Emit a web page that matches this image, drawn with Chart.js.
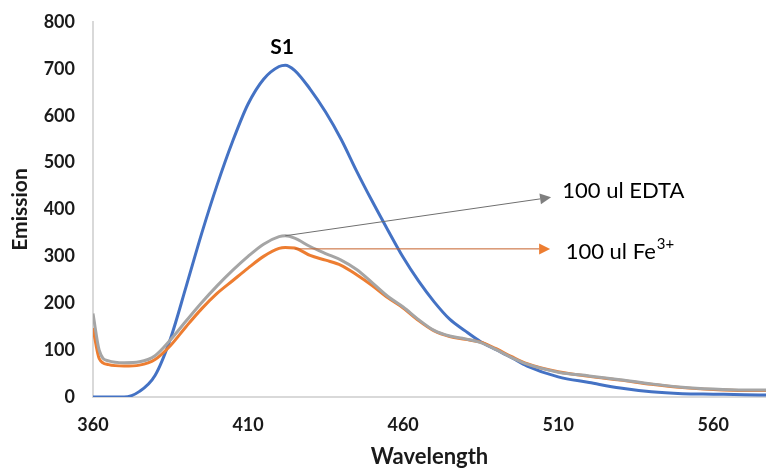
<!DOCTYPE html>
<html>
<head>
<meta charset="utf-8">
<script src="https://cdn.jsdelivr.net/npm/chart.js@4.4.1/dist/chart.umd.min.js"></script>
<style>
html, body { margin: 0; padding: 0; background: #fff; }
</style>
</head>
<body>
<canvas id="chartContainer1" width="766" height="468"></canvas>
<script>
"use strict";

// 1: data
const wavelengths = [360, 362, 365, 370, 375, 380, 385, 390, 395, 400, 405, 410, 415, 420, 422, 425, 430, 435, 440, 445, 450, 455, 460, 465, 470, 475, 480, 485, 490, 495, 500, 510, 520, 530, 540, 550, 560, 570, 577];
const s1 =   [0, 0, 0, 0, 12, 46, 125, 235, 348, 452, 545, 625, 678, 705, 708, 697, 657, 608, 550, 482, 418, 357, 298, 247, 203, 166, 141, 118, 101, 84, 66, 43, 31, 19, 11, 7, 6, 5, 4];
const fe3 =  [147, 82, 69, 66, 68, 80, 110, 150, 188, 221, 248, 275, 300, 317, 319, 318, 302, 292, 281, 261, 238, 212, 190, 163, 141, 129, 123, 117, 103, 86, 71, 54, 44, 36, 27, 20, 16, 14, 14];
const edta = [178, 100, 77, 73, 75, 88, 122, 162, 201, 237, 270, 300, 326, 342, 344, 339, 321, 306, 292, 272, 244, 215, 192, 165, 142, 130, 124, 116, 101, 84, 70, 53, 45, 37, 28, 21, 17, 15, 15];

const xTicks = [360, 410, 460, 510, 560];
const yTicks = [0, 100, 200, 300, 400, 500, 600, 700, 800];

// annotation anchors in data units: [wavelength, emission]
const s1Label = [421, 747];
const edtaArrow = [[422, 344], [507.7, 426]];
const fe3Arrow = [[425, 316], [507.4, 316]];
const edtaText = [511.3, 439];
const fe3Text = [512.4, 310];

function toPoints(ys) {
	return wavelengths.map((w, i) => ({ x: w, y: ys[i] }));
}

// 2: annotations (text and arrows) drawn through the scales
const notesPlugin = {
	id: 'notes',
	afterDatasetsDraw(chart) {
		const ctx = chart.ctx;
		const xs = chart.scales.x;
		const ys = chart.scales.y;
		const px = p => [xs.getPixelForValue(p[0]), ys.getPixelForValue(p[1])];

		function arrow(from, to, lineColor, headColor) {
			const a = px(from);
			const b = px(to);
			const ang = Math.atan2(b[1] - a[1], b[0] - a[0]);
			const len = 11;
			const wid = 5.5;
			ctx.save();
			ctx.strokeStyle = lineColor;
			ctx.fillStyle = headColor;
			ctx.lineWidth = 1;
			ctx.beginPath();
			ctx.moveTo(a[0], a[1]);
			ctx.lineTo(b[0] - Math.cos(ang) * len, b[1] - Math.sin(ang) * len);
			ctx.stroke();
			ctx.beginPath();
			ctx.moveTo(b[0], b[1]);
			ctx.lineTo(b[0] - Math.cos(ang) * len - Math.sin(ang) * wid, b[1] - Math.sin(ang) * len + Math.cos(ang) * wid);
			ctx.lineTo(b[0] - Math.cos(ang) * len + Math.sin(ang) * wid, b[1] - Math.sin(ang) * len - Math.cos(ang) * wid);
			ctx.closePath();
			ctx.fill();
			ctx.restore();
		}

		arrow(edtaArrow[0], edtaArrow[1], '#6f6f6f', '#7f7f7f');
		arrow(fe3Arrow[0], fe3Arrow[1], '#c5602a', '#ed7d31');

		ctx.save();
		ctx.fillStyle = '#000';
		ctx.textBaseline = 'middle';

		let p = px(s1Label);
		ctx.font = 'bold 21px Lato';
		ctx.textAlign = 'center';
		ctx.fillText('S1', p[0], p[1]);

		ctx.textAlign = 'left';
		ctx.font = '22px Lato';
		p = px(edtaText);
		ctx.fillText('100 ul EDTA', p[0], p[1]);

		p = px(fe3Text);
		ctx.fillText('100 ul Fe', p[0], p[1]);
		const w = ctx.measureText('100 ul Fe').width;
		ctx.font = '15px Lato';
		ctx.fillText('3+', p[0] + w + 1, p[1] - 8);
		ctx.restore();
	}
};

// 3: create the chart
let chart = new Chart(document.querySelector('#chartContainer1'), {
	type: 'line',
	data: {
		datasets: [{
			label: 'S1',
			data: toPoints(s1),
			borderColor: '#4472c4',
			order: 3
		}, {
			label: '100 ul Fe3+',
			data: toPoints(fe3),
			borderColor: '#ed7d31',
			order: 2
		}, {
			label: '100 ul EDTA',
			data: toPoints(edta),
			borderColor: '#a5a5a5',
			order: 1
		}]
	},
	options: {
		responsive: false,
		animation: false,
		layout: { padding: { top: 22, right: 0, left: 0, bottom: 0 } },
		elements: {
			line: { borderWidth: 3, cubicInterpolationMode: 'monotone', fill: false },
			point: { radius: 0 }
		},
		plugins: {
			legend: { display: false },
			tooltip: { enabled: false }
		},
		scales: {
			x: {
				type: 'linear',
				min: 360,
				max: 577,
				afterBuildTicks: s => { s.ticks = xTicks.map(v => ({ value: v })); },
				afterFit: s => { s.height = 71; s.paddingLeft = 0; s.paddingRight = 0; },
				grid: { display: false, drawTicks: false },
				border: { display: true, color: '#d9d9d9', width: 2 },
				ticks: { padding: 17, color: '#1a1a1a', font: { family: 'Lato', size: 18, weight: 'bold' } },
				title: {
					display: true,
					text: 'Wavelength',
					color: '#1a1a1a',
					padding: { top: 0, bottom: 0 },
					font: { family: 'Lato', size: 22, weight: 'bold', lineHeight: 1 }
				}
			},
			y: {
				min: 0,
				max: 800,
				afterBuildTicks: s => { s.ticks = yTicks.map(v => ({ value: v })); },
				afterFit: s => { s.width = 93; s.paddingTop = 0; s.paddingBottom = 0; },
				grid: { display: false, drawTicks: false },
				border: { display: true, color: '#d9d9d9', width: 2 },
				ticks: { padding: 18, color: '#1a1a1a', font: { family: 'Lato', size: 18, weight: 'bold' } },
				title: {
					display: true,
					text: 'Emission',
					color: '#1a1a1a',
					padding: { top: 10, bottom: 0 },
					font: { family: 'Lato', size: 21, weight: 'bold', lineHeight: 1 }
				}
			}
		}
	},
	plugins: [notesPlugin]
});
</script>
</body>
</html>
